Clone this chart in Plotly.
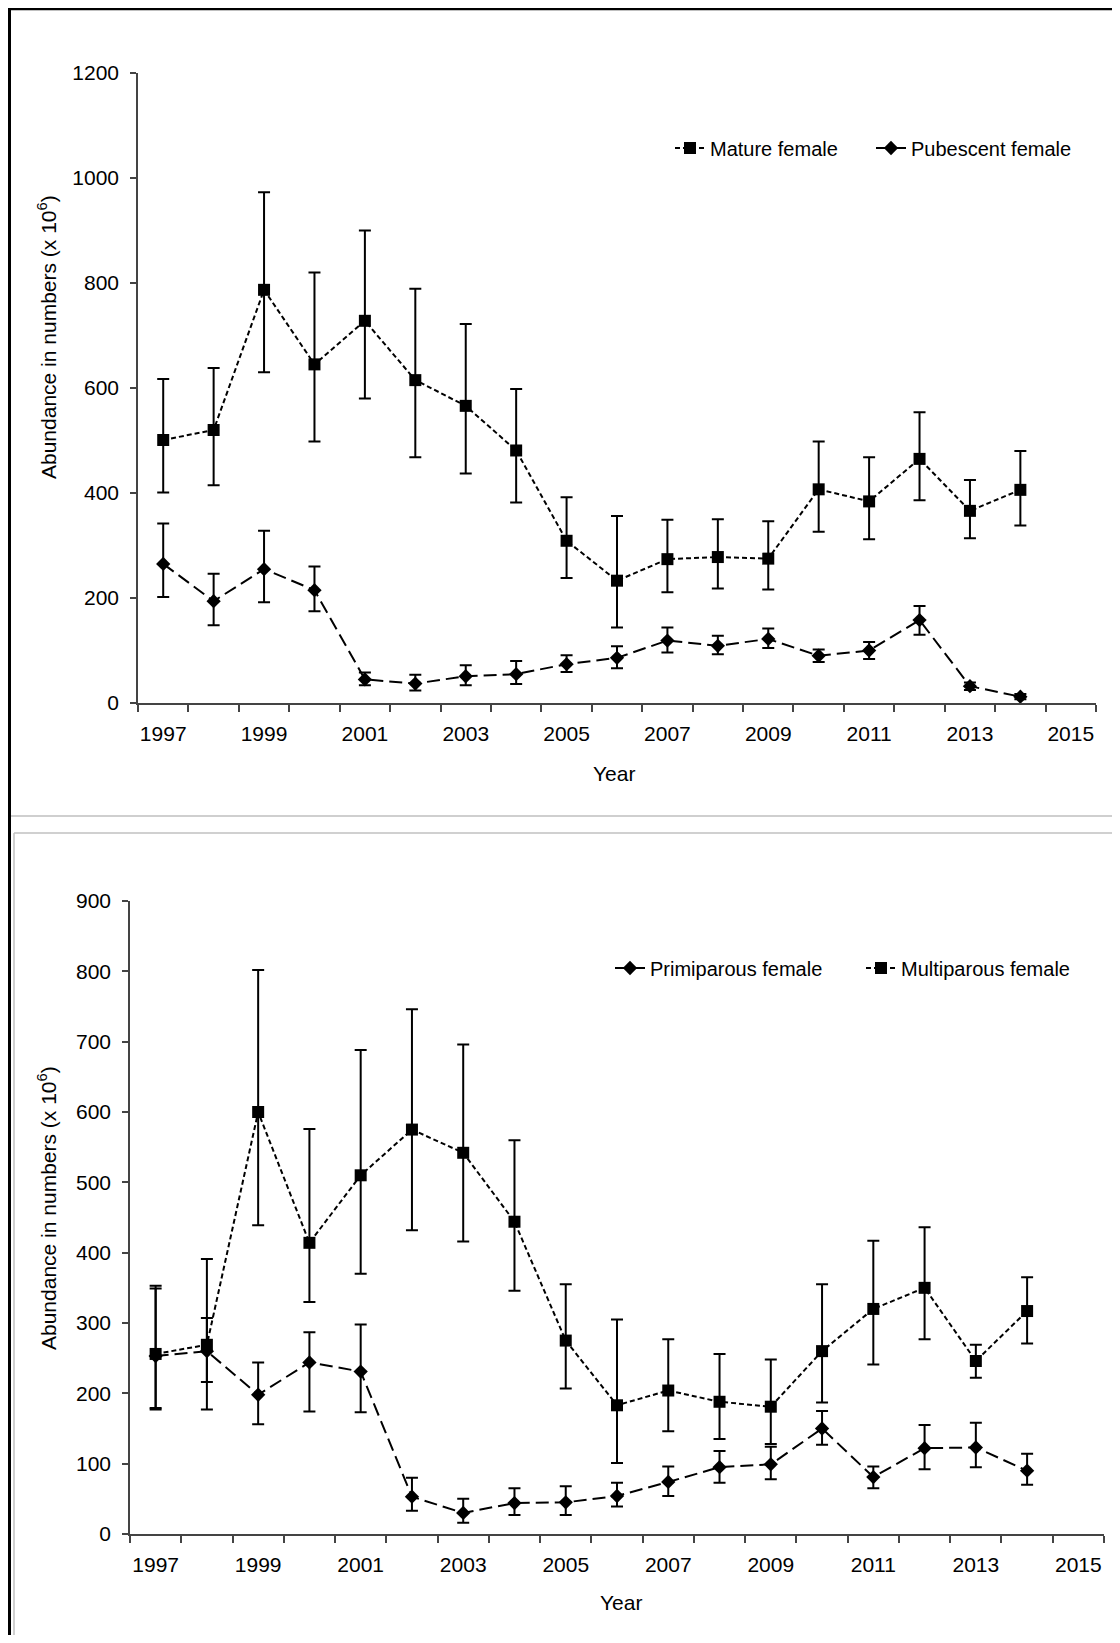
import plotly.graph_objects as go

# ---------------- data ----------------
years = list(range(1997, 2015))
tick_years = [1997, 1999, 2001, 2003, 2005, 2007, 2009, 2011, 2013, 2015]

mature = [501, 520, 787, 645, 728, 615, 566, 481, 309, 233, 274, 278, 275, 407, 384, 465, 366, 406]
mature_hi = [617, 638, 973, 820, 900, 789, 722, 598, 392, 356, 349, 350, 346, 498, 468, 554, 425, 480]
mature_lo = [401, 415, 630, 498, 580, 468, 437, 382, 238, 144, 211, 218, 216, 326, 312, 386, 314, 338]

pubescent = [265, 194, 255, 215, 45, 37, 51, 55, 74, 86, 119, 109, 122, 90, 100, 158, 32, 12]
pubescent_hi = [342, 246, 328, 260, 58, 54, 72, 80, 91, 108, 144, 128, 142, 102, 116, 185, 39, 17]
pubescent_lo = [202, 148, 192, 175, 34, 24, 34, 36, 59, 66, 96, 93, 105, 78, 84, 130, 25, 7]

primiparous = [253, 260, 198, 244, 231, 53, 30, 44, 45, 54, 74, 95, 99, 150, 81, 122, 123, 90]
primiparous_hi = [349, 307, 244, 287, 298, 80, 50, 65, 68, 73, 96, 118, 124, 175, 96, 155, 158, 114]
primiparous_lo = [177, 216, 156, 174, 173, 33, 16, 27, 27, 39, 54, 73, 78, 127, 65, 92, 95, 70]

multiparous = [256, 269, 600, 414, 510, 575, 542, 444, 275, 183, 204, 188, 181, 260, 320, 350, 246, 317]
multiparous_hi = [353, 391, 802, 576, 688, 746, 696, 560, 355, 305, 277, 256, 248, 355, 417, 436, 269, 365]
multiparous_lo = [179, 177, 439, 330, 370, 432, 416, 346, 207, 101, 146, 135, 128, 187, 241, 277, 222, 271]

# ---------------- geometry helpers ----------------
# the page body has an 8px margin, so the figure is sized to fit the window
OFF = 8
W, H = 1120 - 2 * OFF, 1643 - 2 * OFF
def px(x):
    return (x - OFF) / W
def py(y):
    return 1 - (y - OFF) / H

FONT = "Liberation Sans, Arial, sans-serif"
SHORT_DASH = "5px,3px"
LONG_DASH = "13px,6px"

def err(vals, hi, lo):
    return dict(type="data", symmetric=False,
                array=[h - v for v, h in zip(vals, hi)],
                arrayminus=[v - l for v, l in zip(vals, lo)],
                color="black", thickness=2, width=6)

fig = go.Figure()

# top chart
fig.add_trace(go.Scatter(x=years, y=mature, name="Mature female", mode="lines+markers",
                         line=dict(color="black", width=2, dash=SHORT_DASH),
                         marker=dict(symbol="square", size=12, color="black"),
                         error_y=err(mature, mature_hi, mature_lo),
                         xaxis="x", yaxis="y", legend="legend"))
fig.add_trace(go.Scatter(x=years, y=pubescent, name="Pubescent female", mode="lines+markers",
                         line=dict(color="black", width=2, dash=LONG_DASH),
                         marker=dict(symbol="diamond", size=11, color="black"),
                         error_y=err(pubescent, pubescent_hi, pubescent_lo),
                         xaxis="x", yaxis="y", legend="legend"))

# bottom chart
fig.add_trace(go.Scatter(x=years, y=primiparous, name="Primiparous female", mode="lines+markers",
                         line=dict(color="black", width=2, dash=LONG_DASH),
                         marker=dict(symbol="diamond", size=11, color="black"),
                         error_y=err(primiparous, primiparous_hi, primiparous_lo),
                         xaxis="x2", yaxis="y2", legend="legend2"))
fig.add_trace(go.Scatter(x=years, y=multiparous, name="Multiparous female", mode="lines+markers",
                         line=dict(color="black", width=2, dash=SHORT_DASH),
                         marker=dict(symbol="square", size=12, color="black"),
                         error_y=err(multiparous, multiparous_hi, multiparous_lo),
                         xaxis="x2", yaxis="y2", legend="legend2"))

AXCOL = "#444444"
minor_vals = [y - 0.5 for y in range(1997, 2017)]

def xaxis_cfg(x0, x1, y_anchor):
    return dict(domain=[px(x0), px(x1)], anchor=y_anchor, range=[1996.5, 2015.5],
                tickmode="array", tickvals=tick_years, ticktext=[str(t) for t in tick_years],
                ticks="", showgrid=False, zeroline=False, automargin=False,
                showline=True, linecolor=AXCOL, linewidth=1.5,
                tickfont=dict(family=FONT, size=21, color="black"),
                ticklabelstandoff=11,
                minor=dict(tickmode="array", tickvals=minor_vals, ticks="outside",
                           ticklen=7, tickwidth=1.5, tickcolor=AXCOL, showgrid=False))

def yaxis_cfg(y_top, y_bot, rng, dtick, x_anchor):
    return dict(domain=[py(y_bot), py(y_top)], anchor=x_anchor, range=rng,
                tickmode="linear", tick0=0, dtick=dtick,
                ticks="outside", ticklen=6, tickwidth=1.5, tickcolor=AXCOL,
                showgrid=False, zeroline=False, automargin=False,
                showline=True, linecolor=AXCOL, linewidth=1.5,
                tickfont=dict(family=FONT, size=21, color="black"),
                ticklabelstandoff=7)

fig.update_layout(
    width=W, height=H,
    margin=dict(l=0, r=0, t=0, b=0, autoexpand=False),
    paper_bgcolor="white", plot_bgcolor="white",
    font=dict(family=FONT, color="black"),
    xaxis=xaxis_cfg(138, 1096, "y"),
    yaxis=yaxis_cfg(73, 703, [0, 1200], 200, "x"),
    xaxis2=xaxis_cfg(130, 1104, "y2"),
    yaxis2=yaxis_cfg(901, 1534, [0, 900], 100, "x2"),
    legend=dict(orientation="h", x=px(670), y=py(148), xanchor="left", yanchor="middle",
                font=dict(family=FONT, size=20, color="black"),
                bgcolor="rgba(0,0,0,0)", itemwidth=30, tracegroupgap=0,
                entrywidth=156, entrywidthmode="pixels"),
    legend2=dict(orientation="h", x=px(610), y=py(968), xanchor="left", yanchor="middle",
                 font=dict(family=FONT, size=20, color="black"),
                 bgcolor="rgba(0,0,0,0)", itemwidth=30, tracegroupgap=0,
                 entrywidth=206, entrywidthmode="pixels"),
    showlegend=True,
)

# axis titles as annotations
ann = [
    dict(text="Abundance in numbers (x 10<sup>6</sup>)", x=px(47), y=py(337), textangle=-90),
    dict(text="Abundance in numbers (x 10<sup>6</sup>)", x=px(47), y=py(1208), textangle=-90),
    dict(text="Year", x=px(614), y=py(773)),
    dict(text="Year", x=px(621), y=py(1602)),
]
for a in ann:
    fig.add_annotation(xref="paper", yref="paper", showarrow=False,
                       xanchor="center", yanchor="middle",
                       font=dict(family=FONT, size=21, color="black"), **a)

# frames
shapes = [
    # top chart frame (grey)
    dict(type="rect", x0=px(9), x1=px(1118), y0=py(816), y1=py(9),
         line=dict(color="#c0c0c0", width=1.5)),
    # bottom chart frame (grey, partially off page)
    dict(type="line", x0=px(14), x1=px(1130), y0=py(833), y1=py(833),
         line=dict(color="#c0c0c0", width=1.5)),
    dict(type="line", x0=px(14), x1=px(14), y0=py(833), y1=py(1660),
         line=dict(color="#c0c0c0", width=1.5)),
    # outer black border (as close to the page edge as the body margin allows)
    dict(type="line", x0=px(9), x1=px(1130), y0=py(9), y1=py(9),
         line=dict(color="black", width=2.5)),
    dict(type="line", x0=px(9.5), x1=px(9.5), y0=py(8), y1=py(1660),
         line=dict(color="black", width=3)),
]
for s in shapes:
    fig.add_shape(xref="paper", yref="paper", layer="above", **s)

fig.write_html("out.html")
